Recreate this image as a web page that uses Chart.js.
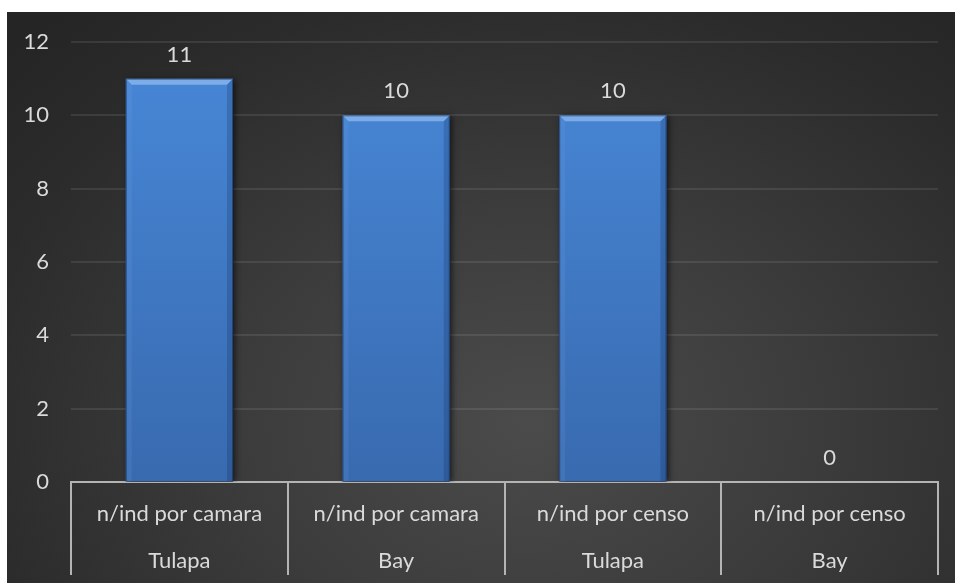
<!DOCTYPE html>
<html>
<head>
<meta charset="utf-8">
<script src="https://cdn.jsdelivr.net/npm/chart.js@4.4.0/dist/chart.umd.min.js"></script>
<style>
    html, body { margin: 0; padding: 0; background: #fff; }
    #caixa {
        position: absolute; left: 7px; top: 12px; width: 948px; height: 571px;
        background: radial-gradient(ellipse 75% 95% at 55% 72%, #4b4b4b 0%, #3c3c3c 40%, #2b2b2b 80%, #252525 100%);
    }
</style>
</head>
<body>
<div id="caixa"><canvas id="graficoBarras"></canvas></div>
<script>
// dados do gráfico
const categorias = [
    ['n/ind por camara', 'Tulapa'],
    ['n/ind por camara', 'Bay'],
    ['n/ind por censo', 'Tulapa'],
    ['n/ind por censo', 'Bay']
];
const valores = [11, 10, 10, 0];
const eixoMin = 0;
const eixoMax = 12;
const eixoPasso = 2;

const fonte = 'Lato, "Open Sans", sans-serif';
const corTexto = '#dadada';
const tamFonte = 22;

// plugin: sombra, bisel das barras e rótulos de valor
const biselPlugin = {
    id: 'bisel',
    beforeDatasetsDraw(chart) {
        const ctx = chart.ctx;
        ctx.save();
        ctx.shadowColor = 'rgba(0,0,0,0.6)';
        ctx.shadowBlur = 6;
        ctx.shadowOffsetX = 2;
        ctx.shadowOffsetY = 1;
    },
    afterDatasetsDraw(chart) {
        const ctx = chart.ctx;
        ctx.restore();
        const meta = chart.getDatasetMeta(0);
        meta.data.forEach((bar, i) => {
            const esq = bar.x - bar.width / 2;
            const dir = bar.x + bar.width / 2;
            const topo = bar.y;
            const base = bar.base;
            const b = 6;
            if (base - topo > b * 2) {
                // topo claro
                ctx.fillStyle = 'rgba(160,200,245,0.6)';
                ctx.beginPath();
                ctx.moveTo(esq, topo);
                ctx.lineTo(dir, topo);
                ctx.lineTo(dir - b, topo + b);
                ctx.lineTo(esq + b, topo + b);
                ctx.closePath();
                ctx.fill();
                // lado esquerdo
                ctx.fillStyle = 'rgba(120,170,235,0.15)';
                ctx.beginPath();
                ctx.moveTo(esq, topo);
                ctx.lineTo(esq + b, topo + b);
                ctx.lineTo(esq + b, base);
                ctx.lineTo(esq, base);
                ctx.closePath();
                ctx.fill();
                // lado direito
                ctx.fillStyle = 'rgba(10,30,70,0.2)';
                ctx.beginPath();
                ctx.moveTo(dir, topo);
                ctx.lineTo(dir - b, topo + b);
                ctx.lineTo(dir - b, base);
                ctx.lineTo(dir, base);
                ctx.closePath();
                ctx.fill();
                // contorno fino
                ctx.strokeStyle = 'rgba(20,45,90,0.6)';
                ctx.lineWidth = 1;
                ctx.strokeRect(esq + 0.5, topo + 0.5, bar.width - 1, base - topo);
            }
            // rótulo de valor
            ctx.fillStyle = corTexto;
            ctx.font = tamFonte + 'px ' + fonte;
            ctx.textAlign = 'center';
            ctx.textBaseline = 'middle';
            ctx.fillText(String(valores[i]), bar.x, topo - 24);
        });
    }
};

let chart;

function initializeChart() {
    const ctx = document.getElementById('graficoBarras').getContext('2d');
    chart = new Chart(ctx, {
        type: 'bar',
        data: {
            labels: categorias,
            datasets: [{
                data: valores,
                backgroundColor: function(c) {
                    const area = c.chart.chartArea;
                    if (!area) return '#4180cf';
                    const g = c.chart.ctx.createLinearGradient(0, area.top, 0, area.bottom);
                    g.addColorStop(0, '#4888d8');
                    g.addColorStop(1, '#386aaf');
                    return g;
                },
                borderWidth: 0,
                categoryPercentage: 1,
                barPercentage: 0.495
            }]
        },
        options: {
            responsive: true,
            maintainAspectRatio: false,
            animation: false,
            layout: { padding: { top: 30, right: 17, bottom: 0, left: 0 } },
            plugins: {
                legend: { display: false },
                tooltip: { enabled: false }
            },
            scales: {
                x: {
                    z: 1,
                    afterFit: function(scale) { scale.height = 101; },
                    grid: {
                        offset: true,
                        drawOnChartArea: false,
                        drawTicks: true,
                        tickLength: 93,
                        color: '#b4b4b4',
                        lineWidth: 2
                    },
                    border: { display: true, color: '#b4b4b4', width: 2 },
                    ticks: {
                        color: corTexto,
                        font: { family: fonte, size: tamFonte, lineHeight: 47 / tamFonte },
                        padding: -84.5,
                        maxRotation: 0,
                        autoSkip: false
                    }
                },
                y: {
                    min: eixoMin,
                    max: eixoMax,
                    afterFit: function(scale) { scale.width = 64; },
                    grid: {
                        color: 'rgba(255,255,255,0.09)',
                        lineWidth: 2,
                        drawTicks: false
                    },
                    border: { display: false },
                    ticks: {
                        stepSize: eixoPasso,
                        color: corTexto,
                        font: { family: fonte, size: tamFonte, lineHeight: 0.5 },
                        padding: 22
                    }
                }
            }
        },
        plugins: [biselPlugin]
    });
}

window.onload = initializeChart;
</script>
</body>
</html>
